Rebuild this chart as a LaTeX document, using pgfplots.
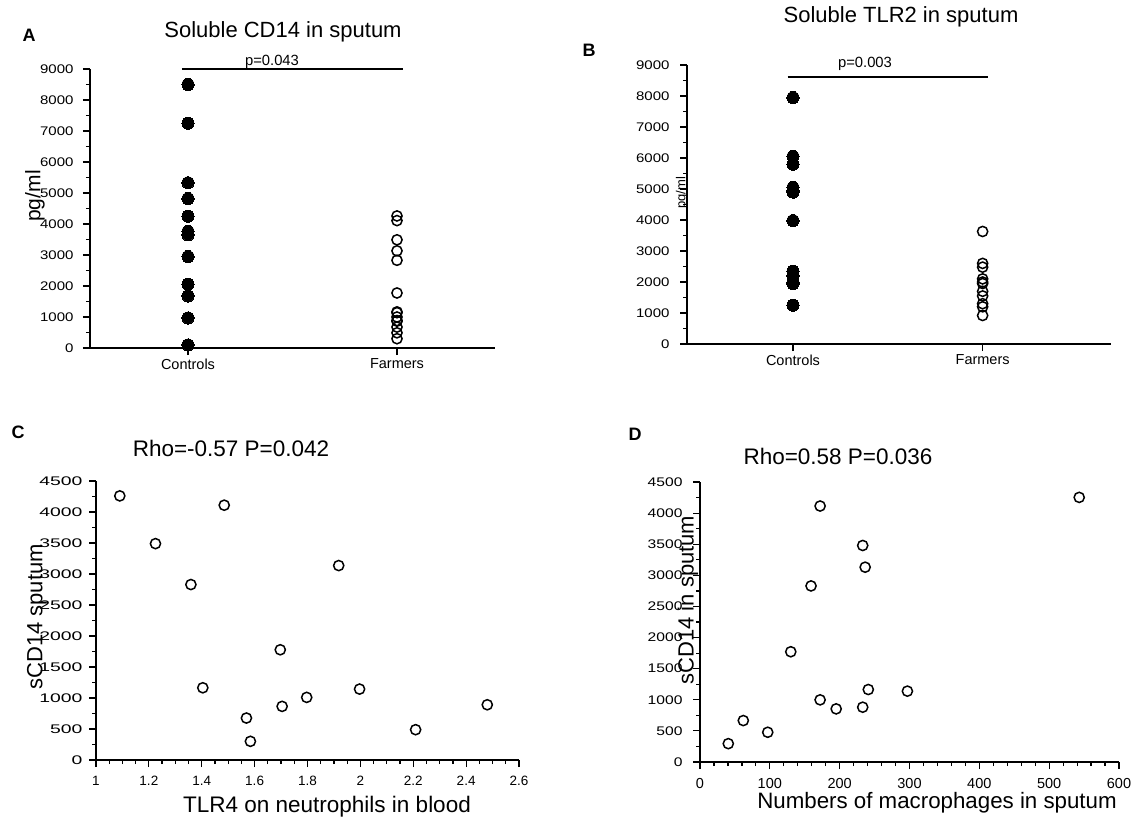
\documentclass[border=0pt]{standalone}
\usepackage{fontspec}
\setmainfont{Liberation Sans}
\newfontfamily\ytA[FakeStretch=1.2]{Liberation Sans}
\newfontfamily\ytC[FakeStretch=1.55]{Liberation Sans}
\newfontfamily\ytD[FakeStretch=1.25]{Liberation Sans}
\usepackage{pgfplots}
\pgfplotsset{compat=1.18}

\newcommand{\fs}[1]{\fontsize{#1}{#1}\selectfont}

\pgfplotsset{
  panel/.style={
    scale only axis,
    anchor=south west,
    axis lines=left,
    axis line style={-, line width=1.8pt},
    tick align=outside,
    major tick length=7pt,
    minor tick length=4pt,
    every tick/.style={black, line width=1.2pt},
    tick pos=left,
    clip=false,
    /pgf/number format/assume math mode=true,
    /pgf/number format/set thousands separator={},
    scaled ticks=false,
  },
  filled/.style={only marks, mark=*, mark size=6.1pt, mark options={fill=black, draw=black, line width=0pt}},
  open/.style={only marks, mark=o, mark size=5.1pt, mark options={draw=black, line width=1.5pt}},
}

\begin{document}
\begin{tikzpicture}
\useasboundingbox (0,0) rectangle (1135pt,-819pt);

% ---------- A
\begin{axis}[panel,
  at={(90pt,-348pt)}, width=405pt, height=279pt,
  xmin=0.531, xmax=2.469, ymin=0, ymax=9000,
  xtick={1,2}, xticklabels={Controls,Farmers},
  ytick={0,1000,...,9000}, minor y tick num=1,
  yticklabel style={font=\ytA\fs{12.5}, xshift=-6pt},
  xticklabel style={font=\fs{14.5}},
]
\addplot[filled] coordinates {
 (1,8500) (1,7250) (1,5330) (1,4820) (1,4250) (1,3760) (1,3650)
 (1,2950) (1,2060) (1,1680) (1,970) (1,100)
};
\addplot[open] coordinates {
 (2,4260) (2,4110) (2,3490) (2,3135) (2,2830) (2,1775) (2,1165)
 (2,1140) (2,1000) (2,885) (2,865) (2,675) (2,490) (2,300)
};
\draw[line width=1.2pt] (axis cs:0.971,9000) -- (axis cs:2.03,9000);
\end{axis}

% ---------- B
\begin{axis}[panel,
  at={(687pt,-344pt)}, width=424pt, height=279pt,
  xmin=0.441, xmax=2.677, ymin=0, ymax=9000,
  xtick={1,2}, xticklabels={Controls,Farmers},
  ytick={0,1000,...,9000}, minor y tick num=1,
  yticklabel style={font=\ytA\fs{12.5}, xshift=-7pt},
  xticklabel style={font=\fs{14.5}},
]
\addplot[filled] coordinates {
 (1,7950) (1,6050) (1,5800) (1,5050) (1,4950) (1,4900) (1,3980)
 (1,2350) (1,2200) (1,2000) (1,1950) (1,1250)
};
\addplot[open] coordinates {
 (2,3630) (2,2600) (2,2480) (2,2100) (2,2000) (2,1950) (2,1700)
 (2,1550) (2,1300) (2,1200) (2,920)
};
\draw[line width=1.2pt] (axis cs:0.972,8613) -- (axis cs:2.027,8613);
\end{axis}

% ---------- C
\begin{axis}[panel,
  at={(96pt,-760pt)}, width=423pt, height=279pt,
  xmin=1, xmax=2.6, ymin=0, ymax=4500,
  xtick={1,1.2,1.4,1.6,1.8,2,2.2,2.4,2.6}, minor x tick num=3,
  ytick={0,500,...,4500}, minor y tick num=1,
  yticklabel style={font=\ytC\fs{12.5}, xshift=-3pt},
  xticklabel style={font=\fs{13.5}, yshift=-6pt},
]
\addplot[open] coordinates {
 (1.090,4260) (1.485,4110) (1.225,3490) (1.359,2830) (1.918,3136)
 (1.697,1778) (1.404,1165) (1.997,1144) (1.797,1010) (1.704,865)
 (1.569,677) (1.584,301) (2.209,489) (2.480,891)
};
\end{axis}

% ---------- D
\begin{axis}[panel,
  at={(700pt,-762pt)}, width=419pt, height=280pt,
  xmin=0, xmax=600, ymin=0, ymax=4500,
  xtick={0,100,...,600}, minor x tick num=4,
  ytick={0,500,...,4500}, minor y tick num=1,
  yticklabel style={font=\ytD\fs{12.5}, xshift=-7pt},
  xticklabel style={font=\fs{14.5}, yshift=-6pt},
]
\addplot[open] coordinates {
 (543,4253) (172,4114) (233,3480) (236.5,3131) (159,2830) (130,1772)
 (241,1165) (297,1139) (172,999) (195,854) (233,881) (62,666)
 (97,478) (40.5,295)
};
\end{axis}

% ---------- texts
\node[font=\bfseries\fs{18}] at (29pt,-35pt) {A};
\node[font=\bfseries\fs{18}] at (589pt,-50pt) {B};
\node[font=\bfseries\fs{18}] at (18pt,-432pt) {C};
\node[font=\bfseries\fs{18}] at (635pt,-434pt) {D};

\node[font=\fs{22}] at (283pt,-32pt) {Soluble CD14 in sputum};
\node[font=\fs{22}] at (901pt,-17pt) {Soluble TLR2 in sputum};
\node[font=\fs{22.5}] at (231pt,-448pt) {Rho=-0.57 P=0.042};
\node[font=\fs{22.5}] at (838pt,-456pt) {Rho=0.58 P=0.036};

\node[font=\fs{14.8}] at (272pt,-62pt) {p=0.043};
\node[font=\fs{14.8}] at (865pt,-64pt) {p=0.003};

\node[font=\fs{21}, rotate=90] at (35pt,-196pt) {pg/ml};
\node[font=\fs{13}, rotate=90] at (682pt,-193pt) {pg/ml};
\node[font=\fs{22}, rotate=90] at (37pt,-617pt) {sCD14 sputum};
\node[font=\fs{22}, rotate=90] at (688pt,-600pt) {sCD14 in sputum};

\node[font=\fs{22.5}] at (327pt,-807pt) {TLR4 on neutrophils in blood};
\node[font=\fs{22.3}] at (937pt,-803pt) {Numbers of macrophages in sputum};
\end{tikzpicture}
\end{document}
